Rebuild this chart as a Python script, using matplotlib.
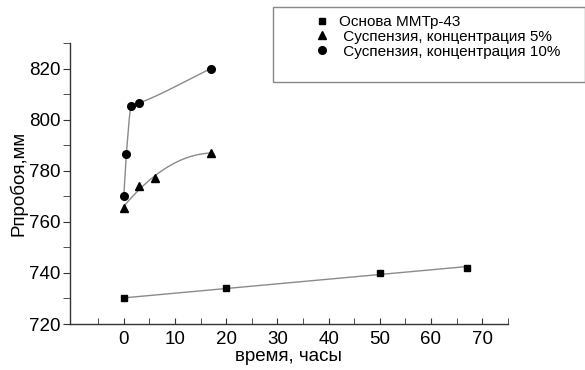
import numpy as np
import matplotlib
matplotlib.use("Agg")
import matplotlib.pyplot as plt
from matplotlib.patches import Rectangle
from matplotlib.lines import Line2D

plt.rcParams["font.family"] = ["Liberation Sans", "DejaVu Sans"]

# data
base_t = [0, 20, 50, 67]
base_p = [730, 734, 740, 742]
susp5_t = [0, 3, 6, 17]
susp5_p = [765.5, 774, 777, 787]
susp10_t = [0, 0.5, 1.5, 3, 17]
susp10_p = [770, 786.5, 805.5, 806.5, 820]

labels = ["Основа ММТр-43",
          " Суспензия, концентрация 5%",
          " Суспензия, концентрация 10%"]


def pchip(x, y, xs):
    """Monotone cubic through the points (just for the guide line)."""
    x = np.asarray(x, float)
    y = np.asarray(y, float)
    h = np.diff(x)
    d = np.diff(y) / h
    m = np.zeros_like(y)
    for i in range(1, len(x) - 1):
        if d[i - 1] * d[i] > 0:
            w1 = 2 * h[i] + h[i - 1]
            w2 = h[i] + 2 * h[i - 1]
            m[i] = (w1 + w2) / (w1 / d[i - 1] + w2 / d[i])
    m[0] = d[0]
    m[-1] = d[-1]
    out = np.empty_like(xs)
    for j, xv in enumerate(xs):
        i = min(np.searchsorted(x, xv) - 1, len(x) - 2)
        i = max(i, 0)
        t = (xv - x[i]) / h[i]
        h00 = 2 * t**3 - 3 * t**2 + 1
        h10 = t**3 - 2 * t**2 + t
        h01 = -2 * t**3 + 3 * t**2
        h11 = t**3 - t**2
        out[j] = h00 * y[i] + h10 * h[i] * m[i] + h01 * y[i + 1] + h11 * h[i] * m[i + 1]
    return out


fig = plt.figure(figsize=(5.85, 3.7), dpi=100)
ax = fig.add_axes([0.1197, 0.1243, 0.7483, 0.7595])

line_kw = dict(color="#8a8a8a", linewidth=1.0, zorder=1)

# straight fit for the base oil
k, b = np.polyfit(base_t, base_p, 1)
xs = np.linspace(base_t[0], base_t[-1], 50)
ax.plot(xs, k * xs + b, **line_kw)

# smooth guides for the suspensions
k2 = np.polyfit(susp5_t, susp5_p, 2)
xs = np.linspace(0.3, susp5_t[-1], 80)
ax.plot(xs, np.polyval(k2, xs), **line_kw)

xs = np.linspace(susp10_t[0], susp10_t[-1], 300)
ax.plot(xs, pchip(susp10_t, susp10_p, xs), **line_kw)

ax.plot(base_t, base_p, "s", color="black", markersize=4.5, zorder=3)
ax.plot(susp5_t, susp5_p, "^", color="black", markersize=5.5, zorder=3)
ax.plot(susp10_t, susp10_p, "o", color="black", markersize=5.5, zorder=3)

ax.set_xlim(-10.5, 75)
ax.set_ylim(720, 830)
ax.set_xticks(range(0, 71, 10))
ax.set_xticks(range(-5, 76, 10), minor=True)
ax.set_yticks(range(720, 821, 20))
ax.set_yticks(range(730, 831, 20), minor=True)

for s in ["top", "right"]:
    ax.spines[s].set_visible(False)
for s in ["left", "bottom"]:
    ax.spines[s].set_color("#333333")
    ax.spines[s].set_linewidth(1.0)

ax.tick_params(axis="x", which="both", direction="in", length=4, color="#333333",
               labelsize=13.5, pad=5)
ax.tick_params(axis="y", which="both", direction="out", length=5, color="#333333",
               labelsize=13.5, pad=2)
ax.set_xlabel("время, часы", fontsize=13.5, labelpad=0)
ax.set_ylabel("Рпробоя,мм", fontsize=13.5, labelpad=1)

# legend box sitting above the plot
fig.add_artist(Rectangle((273 / 585, 1 - 82 / 370), 312 / 585, 75 / 370,
                         transform=fig.transFigure, fill=False,
                         edgecolor="#888888", linewidth=1.0))
handles = [Line2D([], [], linestyle="none", marker="s", color="black", markersize=4.5),
           Line2D([], [], linestyle="none", marker="^", color="black", markersize=5.5),
           Line2D([], [], linestyle="none", marker="o", color="black", markersize=5.5)]
fig.legend(handles, labels, loc="upper left", bbox_to_anchor=(316 / 585, 1 - 15 / 370),
           frameon=False, fontsize=11, handlelength=0.8, handletextpad=0.7,
           labelspacing=0.05, borderpad=0, borderaxespad=0)

fig.savefig("out.png", dpi=100)
